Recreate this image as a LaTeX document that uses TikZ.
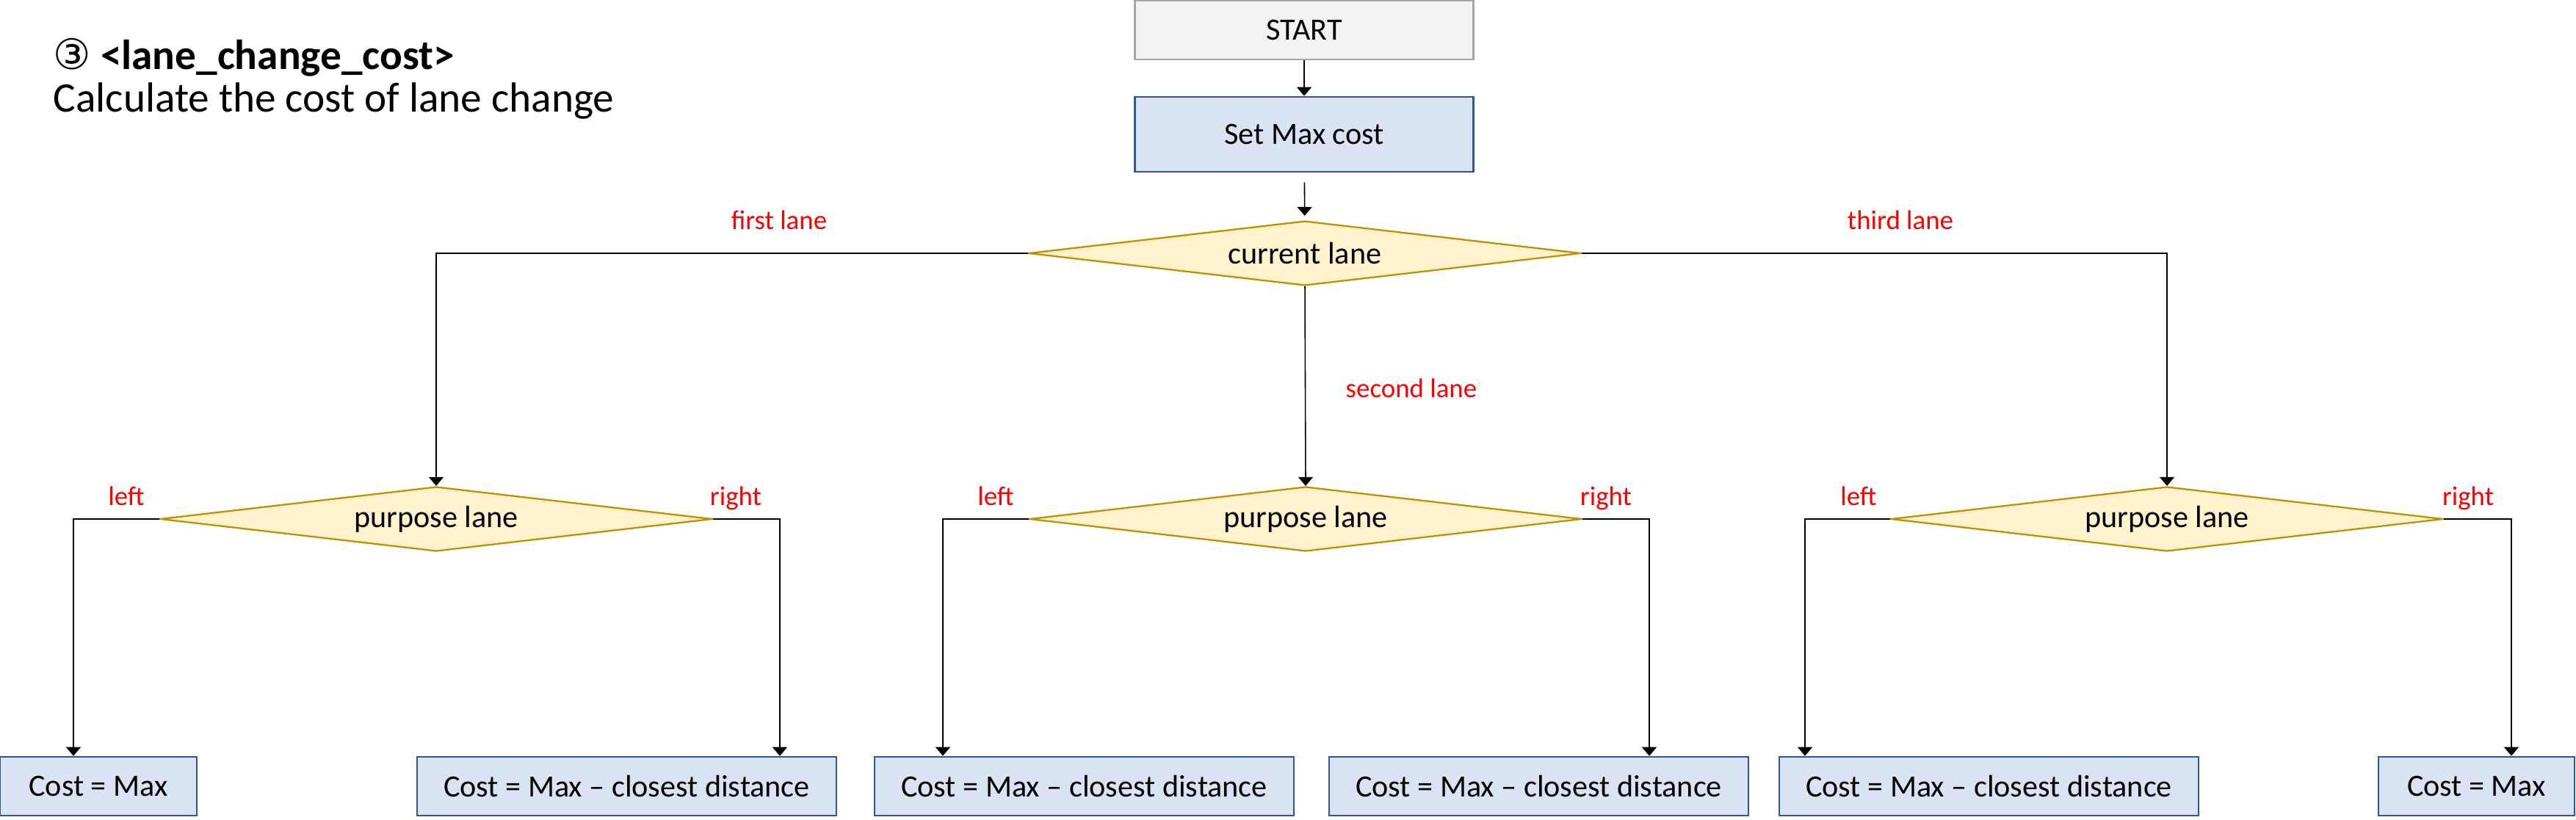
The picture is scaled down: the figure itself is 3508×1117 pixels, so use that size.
\documentclass[tikz,border=0pt]{standalone}
\usepackage{fontspec}
\setmainfont{Carlito}
\newfontfamily\symfont{DejaVu Sans}
\usetikzlibrary{shapes.geometric,arrows.meta}
\definecolor{startfill}{HTML}{F2F2F2}
\definecolor{startdraw}{HTML}{A6A6A6}
\definecolor{boxfill}{HTML}{DAE3F3}
\definecolor{boxdraw}{HTML}{2F5597}
\definecolor{decfill}{HTML}{FFF2CC}
\definecolor{decdraw}{HTML}{BF9000}
\definecolor{lblred}{HTML}{FF0000}
\begin{document}
\begin{tikzpicture}[x=0.1mm,y=-0.1mm,
  startbox/.style={draw=startdraw,fill=startfill,line width=0.75pt,minimum width=46.1mm,minimum height=8mm,inner sep=0pt,font=\fontsize{12}{14}\selectfont},
  procbox/.style={draw=boxdraw,fill=boxfill,line width=0.75pt,minimum height=8mm,inner sep=0pt,font=\fontsize{12}{14}\selectfont},
  decision/.style={diamond,aspect=8.5,draw=decdraw,fill=decfill,line width=0.65pt,minimum width=75.2mm,minimum height=8.8mm,inner sep=0pt,font=\fontsize{12}{14}\selectfont},
  arr/.style={-{Triangle[width=2mm,length=1.2mm]},line width=0.45pt,black},
  lbl/.style={text=lblred,anchor=base,inner sep=0pt,font=\fontsize{10.5}{12}\selectfont}
]
\useasboundingbox (0,0) rectangle (3508,1117);

% title
\node[anchor=base west,inner sep=0pt,font=\fontsize{16.3}{19}\selectfont\bfseries] (title) at (72,95) {{\symfont\mdseries ③} <lane\_change\_cost>};
\node[anchor=base west,inner sep=0pt,font=\fontsize{16.3}{19}\selectfont] (subtitle) at (72,153) {Calculate the cost of lane change};

% nodes
\node[startbox] (start) at (1776,41) {START};
\node[procbox,minimum width=46.1mm,minimum height=10.2mm] (setmax) at (1776,183) {Set Max cost};
\node[decision] (cur) at (1777,345) {current lane};
\node[decision] (p1) at (594,707) {purpose lane};
\node[decision] (p2) at (1778,707) {purpose lane};
\node[decision] (p3) at (2951,707) {purpose lane};

\node[procbox,minimum width=26.8mm] (b1) at (134,1071) {Cost = Max};
\node[procbox,minimum width=57.1mm] (b2) at (853.5,1071) {Cost = Max – closest distance};
\node[procbox,minimum width=57.1mm] (b3) at (1476.5,1071) {Cost = Max – closest distance};
\node[procbox,minimum width=57.1mm] (b4) at (2095.5,1071) {Cost = Max – closest distance};
\node[procbox,minimum width=57.1mm] (b5) at (2708.5,1071) {Cost = Max – closest distance};
\node[procbox,minimum width=26.7mm] (b6) at (3372.5,1071) {Cost = Max};

% connectors
\draw[arr] (start) -- (setmax);
\draw[arr,shorten <=1.3mm,shorten >=0.6mm] (setmax) -- (cur);
\draw[arr] (cur.west) -| (p1.north);
\draw[arr] (cur.south) -- (p2.north);
\draw[arr] (cur.east) -| (p3.north);

\draw[arr] (p1.west) -| ([xshift=-3.4mm]b1.north);
\draw[arr] (p1.east) -| ([xshift=20.85mm]b2.north);
\draw[arr] (p2.west) -| ([xshift=-19.25mm]b3.north);
\draw[arr] (p2.east) -| ([xshift=15.05mm]b4.north);
\draw[arr] (p3.west) -| ([xshift=-25.05mm]b5.north);
\draw[arr] (p3.east) -| ([xshift=4.75mm]b6.north);

% labels
\node[lbl] (lfirst) at (1061,313) {first lane};
\node[lbl] (lthird) at (2588,313) {third lane};
\node[lbl] (lsecond) at (1922,542) {second lane};
\node[lbl] (l1) at (172,688) {left};
\node[lbl] (r1) at (1002,688) {right};
\node[lbl] (l2) at (1356,688) {left};
\node[lbl] (r2) at (2187,688) {right};
\node[lbl] (l3) at (2531,688) {left};
\node[lbl] (r3) at (3361,688) {right};
\end{tikzpicture}
\end{document}
